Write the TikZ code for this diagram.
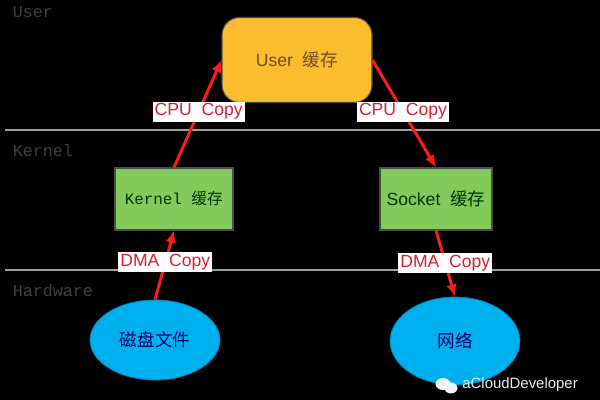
\documentclass[tikz,border=0pt]{standalone}
\usepackage{fontspec}
\setmainfont{Liberation Sans}
\setmonofont{Liberation Mono}
\newfontfamily\cjk{Noto Sans CJK SC}
\usetikzlibrary{shapes.geometric, arrows.meta}
\definecolor{bufyellow}{HTML}{FBBC2E}
\definecolor{bufgreen}{HTML}{82CB5A}
\definecolor{devblue}{HTML}{00B0EE}
\definecolor{copyred}{HTML}{FF1A1A}
\definecolor{labred}{HTML}{D42035}
\begin{document}
\begin{tikzpicture}[
  layer/.style={draw=gray!75, line width=1.1pt},
  lyr/.style={anchor=north west, inner sep=0pt, text=gray!50!black, font=\ttfamily\fontsize{9.5}{11}\selectfont},
  buf/.style={rectangle, draw=gray!60!black, line width=0.6pt, fill=bufgreen,
              font=\fontsize{10}{12}\selectfont, text=black!80!green},
  dev/.style={ellipse, draw=devblue!70!black, line width=0.4pt, fill=devblue,
              text=blue!40!black, font=\cjk\fontsize{10}{12}\selectfont},
  cp/.style={line width=1.7pt, copyred, -{Latex[length=7pt,width=6pt]}},
  lab/.style={fill=white, text=labred, inner xsep=1.2pt, inner ysep=1pt,
              minimum height=0.4cm, font=\fontsize{10}{12}\selectfont}
]
  \fill[black] (0,0) rectangle (12,8);
  \useasboundingbox (0,0) rectangle (12,8);

  % layers
  \draw[layer] (0.1,5.4) -- (12,5.4);
  \draw[layer] (0.1,2.6) -- (12,2.6);
  \node[lyr] (luser) at (0.25,7.87) {User};
  \node[lyr] (lkern) at (0.25,5.12) {Kernel};
  \node[lyr] (lhw)   at (0.25,2.32) {Hardware};

  % buffers
  \node[buf, rounded corners=10pt, fill=bufyellow, text=brown!60!black,
        minimum width=3cm, minimum height=1.7cm] (ubuf) at (5.94,6.8) {User\ \ {\cjk 缓存}};
  \node[buf, minimum width=2.36cm, minimum height=1.24cm, font=\ttfamily\fontsize{9}{11}\selectfont]
        (kbuf) at (3.48,4.02) {Kernel {\cjk 缓存}};
  \node[buf, minimum width=2.24cm, minimum height=1.24cm] (sbuf) at (8.72,4.02) {Socket\ \ {\cjk 缓存}};

  % devices
  \node[dev, minimum width=2.6cm, minimum height=1.6cm] (disk) at (3.1,1.2) {磁盘文件};
  \node[dev, minimum width=2.6cm, minimum height=1.76cm] (net) at (9.1,1.18) {网络};

  % copies
  \draw[cp] (disk.north) -- node[pos=0.54, lab] (dma1) {DMA\ \ Copy} (kbuf.south);
  \draw[cp] (kbuf.north) -- node[pos=0.52, lab] (cpu1) {CPU\ \ Copy} (ubuf.west);
  \draw[cp] (ubuf.east) -- node[pos=0.48, lab] (cpu2) {CPU\ \ Copy} (sbuf.north);
  \draw[cp] (sbuf.south) -- node[pos=0.49, lab] (dma2) {DMA\ \ Copy} (net.north);

  % watermark
  \fill[white!90!gray] (8.86,0.32) ellipse (0.15 and 0.12);
  \fill[white!90!gray] (9.02,0.24) ellipse (0.13 and 0.11);
  \node[anchor=west, inner sep=0pt, text=white!85!gray, font=\fontsize{8.5}{10}\selectfont] (wm) at (9.24,0.3) {aCloudDeveloper};
\end{tikzpicture}
\end{document}
